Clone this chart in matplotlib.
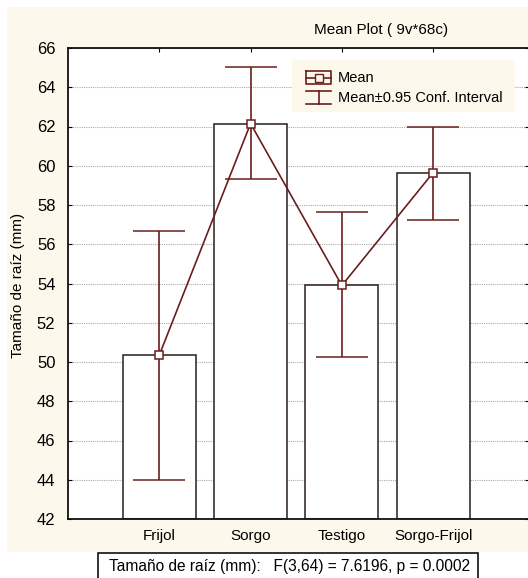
import matplotlib.pyplot as plt
from matplotlib.patches import Rectangle
from matplotlib.lines import Line2D

plt.rcParams['font.family'] = ['Liberation Sans', 'DejaVu Sans']

# datos
grupos = ["Frijol", "Sorgo", "Testigo", "Sorgo-Frijol"]
medias = [50.35, 62.15, 53.9, 59.65]
ic_sup = [56.7, 65.05, 57.65, 62.0]
ic_inf = [44.0, 59.3, 50.25, 57.25]
y_ticks = [42, 44, 46, 48, 50, 52, 54, 56, 58, 60, 62, 64, 66]

W, H = 528, 578
ROJO = "#6B1E1E"
CREMA = "#FDF8EC"


def px(x, y):
    # pixel (desde arriba a la izquierda) -> fraccion de figura
    return x / W, 1 - y / H


fig = plt.figure(figsize=(W / 100, H / 100), dpi=100)
fig.patch.set_facecolor("white")
x0, y0 = px(7, 552)
fig.add_artist(Rectangle((x0, y0), 1 - x0, px(0, 7)[1] - y0, transform=fig.transFigure,
                         facecolor=CREMA, edgecolor="none", zorder=0))

l, b = px(68, 519)
r, t = px(529, 48)
ax = fig.add_axes([l, b, r - l, t - b])
ax.set_facecolor("white")

pos = list(range(1, len(grupos) + 1))
ax.bar(pos, [m - 42 for m in medias], bottom=42, width=0.8, color="white",
       edgecolor="#2A1C1C", linewidth=1.1, zorder=2)
err = [[m - lo for m, lo in zip(medias, ic_inf)], [hi - m for m, hi in zip(medias, ic_sup)]]
ax.errorbar(pos, medias, yerr=err, color=ROJO, linewidth=1.2, elinewidth=1.2,
            capsize=19, capthick=1.2, marker="s", markersize=6,
            markerfacecolor="white", markeredgecolor=ROJO, markeredgewidth=1.1, zorder=3)

ax.set_xlim(0, 5.05)
ax.set_ylim(42, 66)
ax.set_yticks(y_ticks)
ax.set_xticks(pos)
ax.set_xticklabels(grupos, fontsize=11)
ax.tick_params(axis="y", labelsize=12, direction="in", length=3, pad=9, right=True)
ax.tick_params(axis="x", direction="in", length=3, pad=7, top=True)
ax.yaxis.grid(True, linestyle=(0, (1, 1)), color="#AAAAAA", linewidth=0.8, zorder=0)
ax.set_axisbelow(True)
for s in ax.spines.values():
    s.set_linewidth(1.3)
    s.set_color("#111111")

fig.text(*px(381, 30), "Mean Plot ( 9v*68c)", ha="center", va="center", fontsize=11)
fig.text(*px(18, 285), "Tamaño de raíz (mm)", ha="center", va="center",
         rotation=90, fontsize=11)

# leyenda
lx, ly = px(292, 112)
fig.add_artist(Rectangle((lx, ly), (515 - 292) / W, (112 - 60) / H, transform=fig.transFigure,
                         facecolor=CREMA, edgecolor="none", zorder=5))
def linea(xs, ys, **kw):
    pts = [px(x, y) for x, y in zip(xs, ys)]
    fig.add_artist(Line2D([p[0] for p in pts], [p[1] for p in pts], transform=fig.transFigure,
                          color=ROJO, linewidth=1.2, zorder=6, **kw))
linea([306, 331, 331, 306, 306], [71, 71, 84, 84, 71])
linea([306, 331], [77.5, 77.5])
linea([318.5], [77.5], marker="s", markersize=6, markerfacecolor=CREMA,
      markeredgecolor=ROJO, linestyle="none")
linea([306, 331], [91, 91])
linea([318.5, 318.5], [91, 104])
linea([306, 331], [104, 104])
fig.text(*px(338, 78), "Mean", ha="left", va="center", fontsize=10.5, zorder=7)
fig.text(*px(338, 98), "Mean±0.95 Conf. Interval", ha="left", va="center",
         fontsize=10.5, zorder=7)

# caja inferior
bx, by = px(98, 590)
fig.add_artist(Rectangle((bx, by), (478 - 98) / W, (590 - 553) / H, transform=fig.transFigure,
                         facecolor="white", edgecolor="#111111", linewidth=1.2, zorder=5))
fig.text(*px(290, 566), "Tamaño de raíz (mm):   F(3,64) = 7.6196, p = 0.0002",
         ha="center", va="center", fontsize=11.2, zorder=6)

fig.savefig("out.png", dpi=100)
